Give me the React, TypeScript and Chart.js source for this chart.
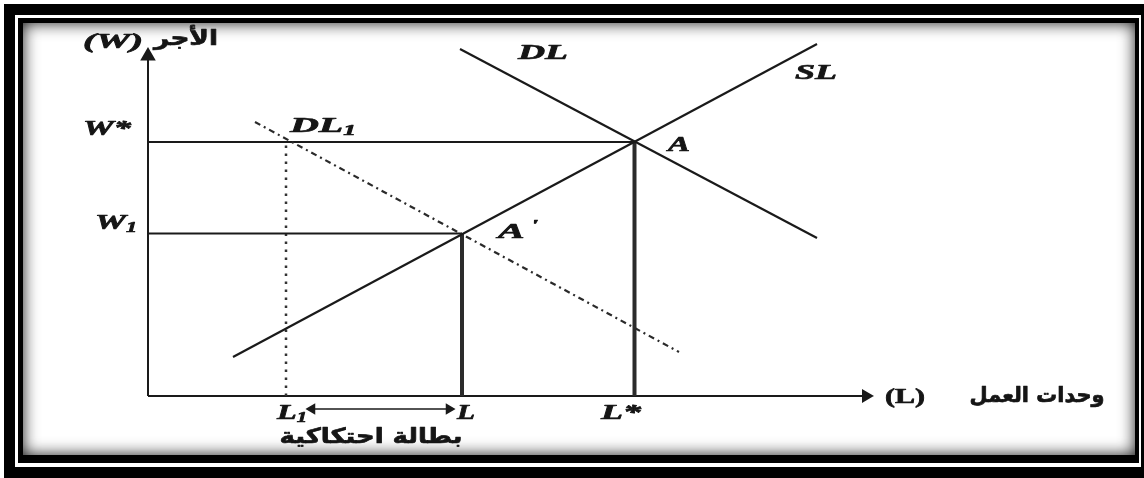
import React, { useEffect, useRef } from "react";
import { Chart, registerables } from "chart.js";

Chart.register(...registerables);

// ---- values (x: labour units, y: wage) ----
const wageLevels = [25.4, 16.25]; // W*, W1
const labourLevels = [48.65, 31.4, 13.8]; // L*, L, L1
const supplyX = [8.5, 66.9];
const supplyY = [3.9, 35.2];
const demandX = [31.2, 66.9];
const demandY = [34.7, 15.8];
const demand1X = [10.7, 53.1];
const demand1Y = [27.4, 4.4];
const axisEnds = [71.8, 34.0]; // end of x axis, end of y axis
const frictionArrowX = [16.4, 30.1];
const frictionArrowY = [-1.3, -1.3];

// ---- texts ----
const axisTitlesY = ["(W)", "الأجر"];
const axisTitlesX = ["(L)", "وحدات العمل"];
const wageTicks = ["W*", "W"];
const labourTicks = ["L*", "L", "L"];
const curveNames = ["SL", "DL", "DL"];
const pointNames = ["A", "A"];
const unemploymentLabel = "بطالة احتكاكية";

const pts = (xs: number[], ys: number[]) => xs.map((x, i) => ({ x, y: ys[i] }));

const SERIF_BI = "bold italic 22px 'Liberation Serif'";
const SERIF_B = "bold 22px 'Liberation Serif'";
const SUB = "bold italic 14px 'Liberation Serif'";
const ARABIC = "bold 21px 'DejaVu Sans'";

type Part = { t: string; font: string; dy?: number };

function drawParts(ctx: CanvasRenderingContext2D, parts: Part[], cx: number, cy: number, w: number) {
  ctx.save();
  let total = 0;
  const widths = parts.map((p) => {
    ctx.font = p.font;
    const m = ctx.measureText(p.t).width;
    total += m;
    return m;
  });
  const s = w / total;
  ctx.translate(cx - w / 2, cy);
  ctx.scale(s, 1);
  ctx.textBaseline = "middle";
  ctx.textAlign = "left";
  ctx.fillStyle = "#151515";
  ctx.strokeStyle = "#151515";
  ctx.lineWidth = 0.7;
  ctx.lineJoin = "round";
  let x = 0;
  parts.forEach((p, i) => {
    ctx.font = p.font;
    ctx.fillText(p.t, x, p.dy || 0);
    ctx.strokeText(p.t, x, p.dy || 0);
    x += widths[i];
  });
  ctx.restore();
}

const framePlugin = {
  id: "frame",
  beforeDraw(chart: any) {
    const ctx: CanvasRenderingContext2D = chart.ctx;
    const W = chart.width;
    const H = chart.height;
    ctx.save();
    ctx.fillStyle = "#fff";
    ctx.fillRect(0, 0, W, H);
    ctx.fillStyle = "#000";
    ctx.fillRect(4, 4, W - 4, H - 4);
    ctx.fillStyle = "#fff";
    ctx.fillRect(15, 15, 1126, 452);
    ctx.fillStyle = "#000";
    ctx.fillRect(18, 18, 1121, 445);
    ctx.fillStyle = "#fff";
    ctx.fillRect(23, 23, 1112, 432);
    // inner shadow
    ctx.beginPath();
    ctx.rect(23, 23, 1112, 432);
    ctx.clip();
    ctx.beginPath();
    ctx.rect(-200, -200, W + 400, H + 400);
    ctx.rect(23, 23, 1112, 432);
    ctx.shadowColor = "rgba(0,0,0,0.9)";
    ctx.shadowBlur = 16;
    ctx.fillStyle = "#000";
    ctx.fill("evenodd");
    ctx.restore();
  },
};

const labelPlugin = {
  id: "labels",
  afterDraw(chart: any) {
    const ctx: CanvasRenderingContext2D = chart.ctx;
    drawParts(ctx, [{ t: axisTitlesY[0], font: SERIF_BI }], 113, 42, 60);
    drawParts(ctx, [{ t: axisTitlesY[1], font: ARABIC }], 186, 40, 64);
    drawParts(ctx, [{ t: wageTicks[0], font: SERIF_BI }], 107, 129, 48);
    drawParts(ctx, [{ t: wageTicks[1], font: SERIF_BI }, { t: "1", font: SUB, dy: 5 }], 116, 223, 42);
    drawParts(ctx, [{ t: curveNames[2], font: SERIF_BI }, { t: "1", font: SUB, dy: 5 }], 323, 126, 66);
    drawParts(ctx, [{ t: curveNames[1], font: SERIF_BI }], 543, 53, 50);
    drawParts(ctx, [{ t: curveNames[0], font: SERIF_BI }], 816, 73, 42);
    drawParts(ctx, [{ t: pointNames[0], font: SERIF_BI }], 679, 145, 22);
    drawParts(ctx, [{ t: pointNames[1], font: SERIF_BI }, { t: " '", font: SUB, dy: -6 }], 518, 232, 40);
    drawParts(ctx, [{ t: labourTicks[2], font: SERIF_BI }, { t: "1", font: SUB, dy: 5 }], 292, 413, 30);
    drawParts(ctx, [{ t: labourTicks[1], font: SERIF_BI }], 466, 413, 18);
    drawParts(ctx, [{ t: labourTicks[0], font: SERIF_BI }], 621, 413, 40);
    drawParts(ctx, [{ t: unemploymentLabel, font: ARABIC }], 371, 438, 183);
    drawParts(ctx, [{ t: axisTitlesX[0], font: SERIF_B }], 905, 397, 40);
    drawParts(ctx, [{ t: axisTitlesX[1], font: ARABIC }], 1037, 397, 135);
  },
};

export default function App() {
  const ref = useRef<HTMLCanvasElement | null>(null);

  useEffect(() => {
    document.body.style.margin = "0";
    const canvas = ref.current;
    if (!canvas) return;
    const [wStar, w1] = wageLevels;
    const [lStar, lMid, l1] = labourLevels;
    const base = { showLine: true, fill: false, pointRadius: 0, borderColor: "#1a1a1a", borderWidth: 2 };
    const chart = new Chart(canvas, {
      type: "scatter",
      data: {
        datasets: [
          { ...base, data: pts(supplyX, supplyY), borderWidth: 2.2 },
          { ...base, data: pts(demandX, demandY), borderWidth: 2.2 },
          { ...base, data: pts(demand1X, demand1Y), borderColor: "#2a2a2a", borderWidth: 2.2, borderDash: [6, 4, 2, 4] },
          { ...base, data: [{ x: 0, y: wStar }, { x: lStar, y: wStar }] },
          { ...base, data: [{ x: 0, y: w1 }, { x: lMid, y: w1 }] },
          { ...base, data: [{ x: lStar, y: 0 }, { x: lStar, y: wStar }], borderWidth: 4, borderColor: "#2b2b2b" },
          { ...base, data: [{ x: lMid, y: 0 }, { x: lMid, y: w1 }], borderWidth: 4, borderColor: "#2b2b2b" },
          { ...base, data: [{ x: l1, y: 0 }, { x: l1, y: wStar }], borderWidth: 2.5, borderColor: "#333", borderDash: [2.5, 5.5] },
          {
            ...base,
            data: [{ x: 0, y: 0 }, { x: 0, y: axisEnds[1] }],
            pointRadius: [0, 7],
            pointStyle: "triangle",
            pointRotation: 0,
            pointBackgroundColor: "#1a1a1a",
            pointBorderColor: "#1a1a1a",
          },
          {
            ...base,
            data: [{ x: 0, y: 0 }, { x: axisEnds[0], y: 0 }],
            pointRadius: [0, 6],
            pointStyle: "triangle",
            pointRotation: 90,
            pointBackgroundColor: "#1a1a1a",
            pointBorderColor: "#1a1a1a",
          },
          {
            ...base,
            data: pts(frictionArrowX, frictionArrowY),
            borderWidth: 1.5,
            pointRadius: 5,
            pointStyle: "triangle",
            pointRotation: [270, 90],
            pointBackgroundColor: "#1a1a1a",
            pointBorderColor: "#1a1a1a",
          },
        ] as any,
      },
      options: {
        animation: false,
        responsive: false,
        devicePixelRatio: 1,
        layout: { padding: { left: 48, right: 16, top: 40, bottom: 22 } },
        scales: {
          x: { type: "linear", min: -10, max: 98, display: false },
          y: { type: "linear", min: -6, max: 35.6, display: false },
        },
        plugins: { legend: { display: false }, tooltip: { enabled: false } },
        events: [],
      } as any,
      plugins: [framePlugin, labelPlugin],
    });
    return () => chart.destroy();
  }, []);

  return (
    <div style={{ position: "absolute", left: 0, top: 0, width: 1144, height: 478 }}>
      <canvas ref={ref} width={1144} height={478} style={{ display: "block" }} />
    </div>
  );
}
